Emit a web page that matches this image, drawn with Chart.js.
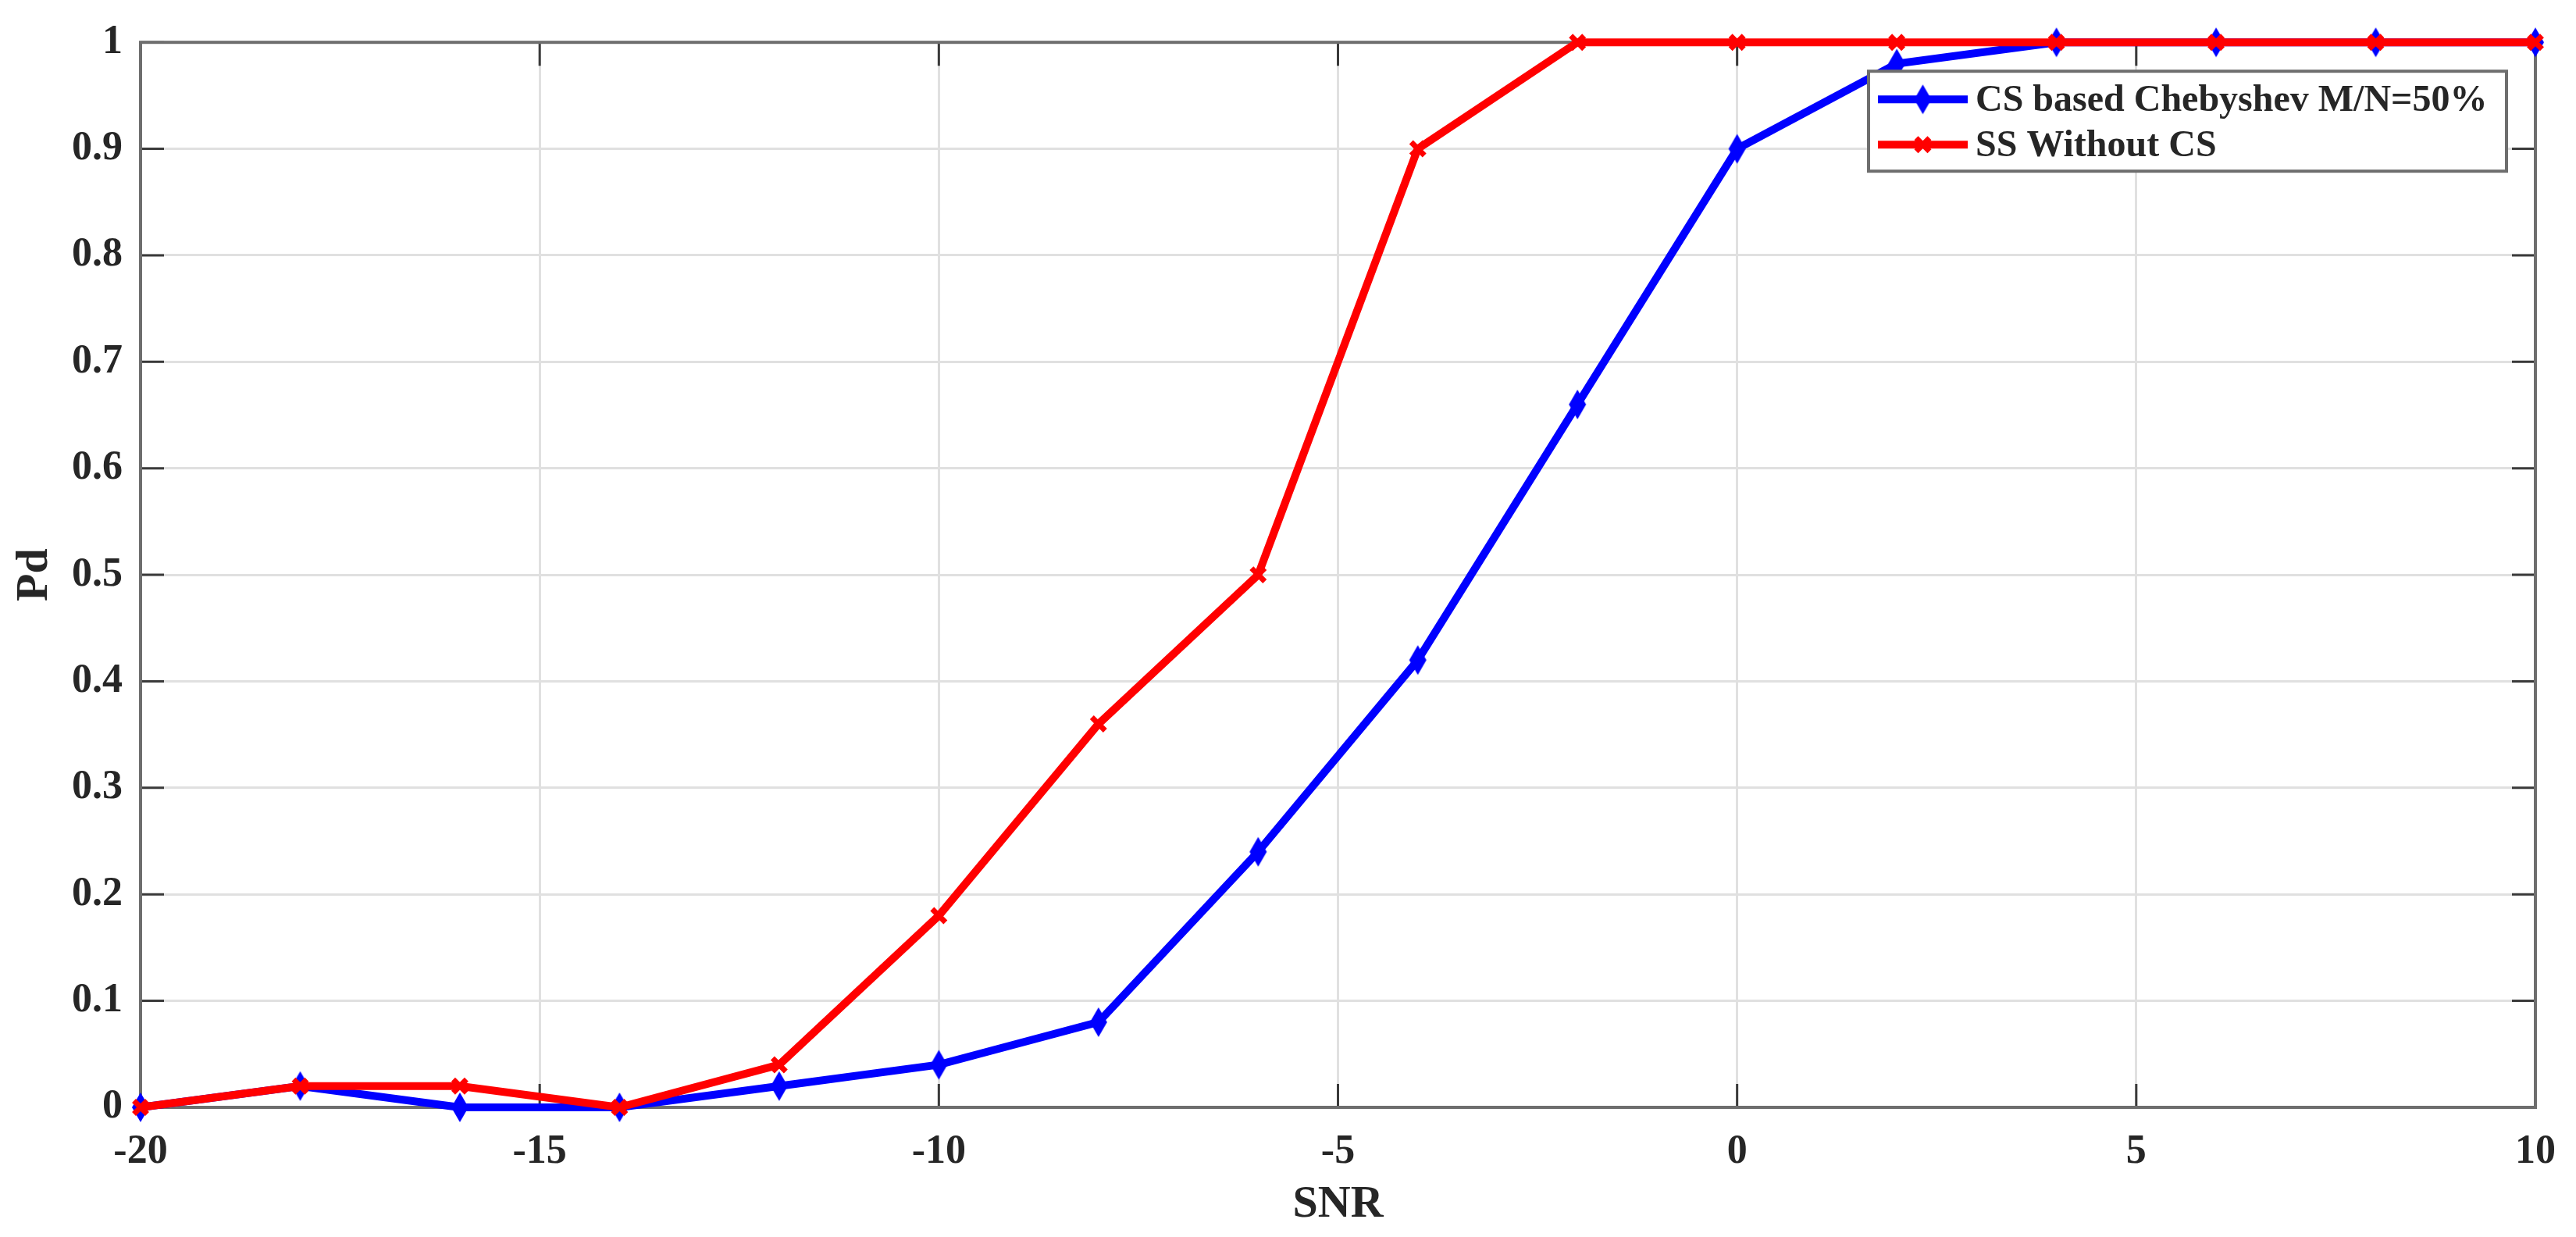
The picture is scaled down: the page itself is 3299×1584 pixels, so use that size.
<!DOCTYPE html>
<html>
<head>
<meta charset="utf-8">
<script src="https://cdn.jsdelivr.net/npm/chart.js@4.4.1/dist/chart.umd.min.js"></script>
<style>
  html, body { margin: 0; padding: 0; background: #fff; }
  #wrap { width: 3299px; height: 1584px; position: relative; }
</style>
</head>
<body>
<div id="wrap"><canvas id="chart"></canvas></div>
<script>
// SNR (dB) sample points
const snr = [-20, -18, -16, -14, -12, -10, -8, -6, -4, -2, 0, 2, 4, 6, 8, 10];
// detection probability
const pdChebyshev = [0, 0.02, 0, 0, 0.02, 0.04, 0.08, 0.24, 0.42, 0.66, 0.9, 0.98, 1, 1, 1, 1];
const pdNoCS = [0, 0.02, 0.02, 0, 0.04, 0.18, 0.36, 0.5, 0.9, 1, 1, 1, 1, 1, 1, 1];
const seriesLabels = ["CS based Chebyshev M/N=50%", "SS Without CS"];
const xTickStep = 5;
const yTickStep = 0.1;

const FONT = "'Liberation Serif', 'Times New Roman', serif";
const TEXT = "#262626";

// tall narrow diamond marker like matlab's 'd'
function diamond(color) {
  const c = document.createElement("canvas");
  c.width = 24; c.height = 40;
  const g = c.getContext("2d");
  g.fillStyle = color;
  g.beginPath();
  g.moveTo(12, 1); g.lineTo(23, 20); g.lineTo(12, 39); g.lineTo(1, 20);
  g.closePath();
  g.fill();
  return c;
}
const blueMarker = diamond("#0000ff");

function pts(ys) {
  return snr.map((x, i) => ({ x: x, y: ys[i] }));
}

// box round the plot and inward tick marks on all four sides
const frame = {
  id: "frame",
  beforeDatasetsDraw(chart) {
    const { ctx, chartArea: a, scales } = chart;
    ctx.save();
    ctx.strokeStyle = "#3a3a3a";
    ctx.lineWidth = 3;
    const len = 30;
    scales.x.ticks.forEach(t => {
      const px = scales.x.getPixelForValue(t.value);
      ctx.beginPath();
      ctx.moveTo(px, a.bottom); ctx.lineTo(px, a.bottom - len);
      ctx.moveTo(px, a.top); ctx.lineTo(px, a.top + len);
      ctx.stroke();
    });
    scales.y.ticks.forEach(t => {
      const py = scales.y.getPixelForValue(t.value);
      ctx.beginPath();
      ctx.moveTo(a.left, py); ctx.lineTo(a.left + len, py);
      ctx.moveTo(a.right, py); ctx.lineTo(a.right - len, py);
      ctx.stroke();
    });
    ctx.strokeStyle = "#6e6e6e";
    ctx.lineWidth = 4;
    ctx.strokeRect(a.left, a.top, a.right - a.left, a.bottom - a.top);
    ctx.restore();
  }
};

// matlab style legend box, top right inside the axes
const boxLegend = {
  id: "boxLegend",
  afterDatasetsDraw(chart) {
    const { ctx, chartArea: a } = chart;
    const w = 817, h = 128;
    const left = a.right - 37 - w, top = a.top + 37;
    ctx.save();
    ctx.fillStyle = "#fff";
    ctx.fillRect(left, top, w, h);
    ctx.strokeStyle = "#6e6e6e";
    ctx.lineWidth = 4;
    ctx.strokeRect(left, top, w, h);
    chart.data.datasets.forEach((ds, i) => {
      const y = top + 36 + i * 58;
      const x0 = left + 12, x1 = left + 127, xm = (x0 + x1) / 2;
      ctx.strokeStyle = ds.borderColor;
      ctx.lineWidth = ds.borderWidth;
      ctx.beginPath(); ctx.moveTo(x0, y); ctx.lineTo(x1, y); ctx.stroke();
      if (ds.pointStyle instanceof HTMLCanvasElement) {
        const im = ds.pointStyle;
        ctx.drawImage(im, xm - im.width / 2, y - im.height / 2);
      } else {
        const o = ds.pointRadius * Math.SQRT1_2;
        ctx.strokeStyle = ds.pointBorderColor;
        ctx.lineWidth = ds.pointBorderWidth;
        ctx.beginPath();
        ctx.moveTo(xm - o, y - o); ctx.lineTo(xm + o, y + o);
        ctx.moveTo(xm - o, y + o); ctx.lineTo(xm + o, y - o);
        ctx.stroke();
      }
      ctx.fillStyle = TEXT;
      ctx.font = "bold 48px " + FONT;
      ctx.textBaseline = "middle";
      ctx.fillText(ds.label, left + 137, y + 2);
    });
    ctx.restore();
  }
};

new Chart(document.getElementById("chart"), {
  type: "line",
  data: {
    datasets: [
      {
        label: seriesLabels[0],
        data: pts(pdChebyshev),
        borderColor: "#0000ff",
        backgroundColor: "#0000ff",
        borderWidth: 10,
        pointStyle: blueMarker,
        pointRadius: 14,
        order: 1,
        clip: false
      },
      {
        label: seriesLabels[1],
        data: pts(pdNoCS),
        borderColor: "#ff0000",
        backgroundColor: "#ff0000",
        borderWidth: 10,
        pointStyle: "crossRot",
        pointRadius: 12,
        pointBorderColor: "#ff0000",
        pointBorderWidth: 7,
        order: 0,
        clip: false
      }
    ]
  },
  options: {
    responsive: true,
    maintainAspectRatio: false,
    animation: false,
    events: [],
    layout: { padding: { top: 42, right: 39, left: 0, bottom: 0 } },
    plugins: {
      legend: { display: false },
      tooltip: { enabled: false }
    },
    scales: {
      x: {
        type: "linear",
        min: -20,
        max: 10,
        afterFit(s) { s.height = 166; },
        border: { display: false },
        grid: { color: "#e0e0e0", lineWidth: 3, drawTicks: false },
        ticks: {
          stepSize: xTickStep,
          padding: 26,
          color: TEXT,
          font: { family: FONT, size: 52, weight: "bold" }
        },
        title: {
          display: true,
          text: "SNR",
          color: TEXT,
          padding: { top: 4, bottom: 6 },
          font: { family: FONT, size: 58, weight: "bold" }
        }
      },
      y: {
        min: 0,
        max: 1,
        afterFit(s) { s.width = 180; },
        border: { display: false },
        grid: { color: "#e0e0e0", lineWidth: 3, drawTicks: false },
        ticks: {
          stepSize: yTickStep,
          padding: 23,
          color: TEXT,
          font: { family: FONT, size: 52, weight: "bold" },
          callback: v => String(+v.toFixed(1))
        },
        title: {
          display: true,
          text: "Pd",
          color: TEXT,
          padding: 10,
          font: { family: FONT, size: 58, weight: "bold" }
        }
      }
    }
  },
  plugins: [frame, boxLegend]
});
</script>
</body>
</html>
